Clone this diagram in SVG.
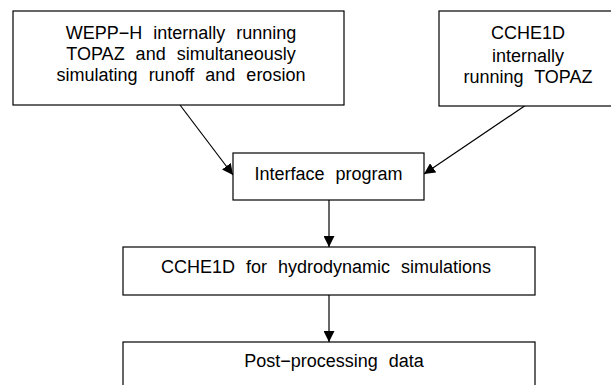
<svg xmlns="http://www.w3.org/2000/svg" width="611" height="385" viewBox="0 0 611 385">
<style>
.box{fill:#fff;stroke:#000;stroke-width:1.2}
.t{font-family:"Liberation Sans",Arial,sans-serif;font-size:18px;fill:#000;text-anchor:middle;word-spacing:6px}
.c{stroke:#000;stroke-width:1.2;fill:none}
</style>
<defs>
<marker id="ah" viewBox="0 0 10 10" refX="10" refY="5" markerWidth="11" markerHeight="11" markerUnits="userSpaceOnUse" orient="auto">
<path d="M0,0 L10,5 L0,10 z" fill="#000"/>
</marker>
</defs>
<rect width="611" height="385" fill="#fff"/>
<g id="connectors">
<line class="c" x1="180" y1="105" x2="233" y2="175" marker-end="url(#ah)"/>
<line class="c" x1="526" y1="105" x2="424" y2="174" marker-end="url(#ah)"/>
<line class="c" x1="329" y1="200" x2="329" y2="247" marker-end="url(#ah)"/>
<line class="c" x1="329" y1="295" x2="329" y2="342" marker-end="url(#ah)"/>
</g>
<g id="wepp">
<rect class="box" x="13" y="11" width="331" height="94"/>
<text class="t" x="181" y="39">WEPP−H internally running</text>
<text class="t" x="181" y="60">TOPAZ and simultaneously</text>
<text class="t" x="181" y="81">simulating runoff and erosion</text>
</g>
<g id="cche1d-topaz">
<rect class="box" x="439" y="11" width="180" height="95"/>
<text class="t" x="528" y="39">CCHE1D</text>
<text class="t" x="528" y="62">internally</text>
<text class="t" x="528" y="83">running TOPAZ</text>
</g>
<g id="interface">
<rect class="box" x="233" y="153" width="191" height="47"/>
<text class="t" x="328.5" y="180">Interface program</text>
</g>
<g id="cche1d-hydro">
<rect class="box" x="123" y="247" width="412" height="48"/>
<text class="t" x="326" y="273">CCHE1D for hydrodynamic simulations</text>
</g>
<g id="post">
<rect class="box" x="123" y="342" width="412" height="60"/>
<text class="t" x="334" y="367">Post−processing data</text>
</g>
</svg>
